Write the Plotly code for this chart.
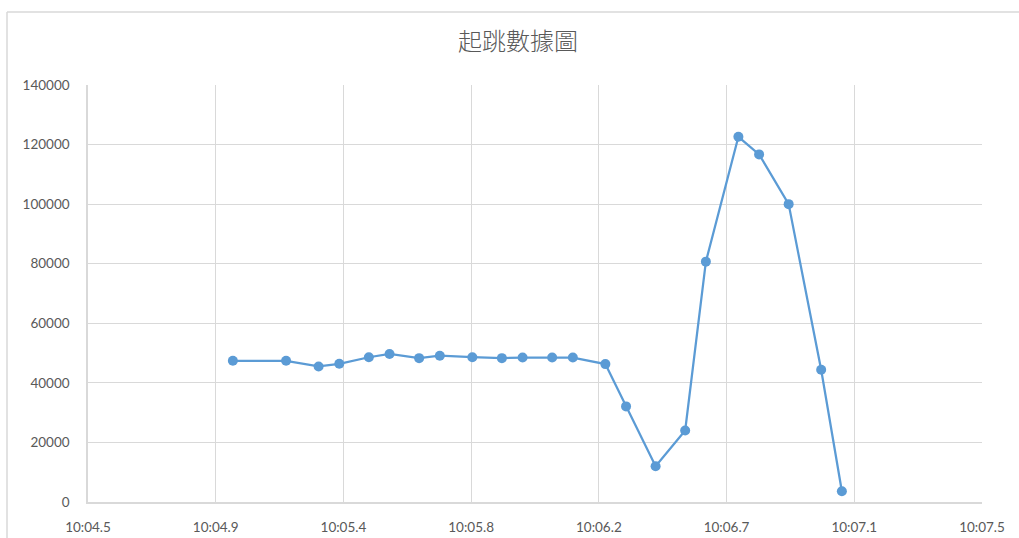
import plotly.graph_objects as go

# Jump force samples: seconds within minute 10, and force readings
seconds = [4.99, 5.17, 5.28, 5.35, 5.45, 5.52, 5.62, 5.69, 5.80, 5.90, 5.97, 6.07,
           6.14, 6.25, 6.32, 6.42, 6.52, 6.59, 6.70, 6.77, 6.87, 6.98, 7.05]
force = [47400, 47400, 45500, 46400, 48600, 49700, 48300, 49100, 48600, 48300, 48500, 48500,
         48500, 46300, 32100, 12000, 24000, 80700, 122600, 116700, 100000, 44400, 3600]

tick_seconds = [4.500, 4.932, 5.364, 5.796, 6.228, 6.660, 7.092, 7.524]
tick_labels = ["10:04.5", "10:04.9", "10:05.4", "10:05.8", "10:06.2", "10:06.7", "10:07.1", "10:07.5"]
y_ticks = [0, 20000, 40000, 60000, 80000, 100000, 120000, 140000]


def stamp(s):
    return "2024-01-01 00:10:%06.3f" % s


W, H = 1019, 538
ML, MR, MT, MB = 88, 37, 85, 36
PW, PH = W - ML - MR, H - MT - MB

fig = go.Figure(go.Scatter(
    x=[stamp(s) for s in seconds], y=force,
    mode="lines+markers",
    line=dict(color="#5B9BD5", width=2.25),
    marker=dict(color="#5B9BD5", size=10),
    hoverinfo="x+y",
))

grid = "#D9D9D9"
tick_font = dict(family="Lato, 'Liberation Sans', sans-serif", size=13.5, color="#595959")

fig.update_xaxes(
    type="date",
    range=[stamp(tick_seconds[0]), stamp(tick_seconds[-1])],
    tickmode="array",
    tickvals=[stamp(s) for s in tick_seconds],
    ticktext=tick_labels,
    showgrid=True, gridcolor=grid, gridwidth=1,
    showline=True, linecolor=grid, linewidth=1.5,
    ticks="", tickfont=tick_font, ticklabelstandoff=12,
    zeroline=False, automargin=False,
)
fig.update_yaxes(
    range=[0, 140000],
    tickmode="array", tickvals=y_ticks,
    ticktext=[str(v) for v in y_ticks],
    showgrid=True, gridcolor=grid, gridwidth=1,
    showline=True, linecolor=grid, linewidth=1.5,
    ticks="", tickfont=tick_font, ticklabelstandoff=14,
    zeroline=False, automargin=False,
)


def px_x(p):
    return (p - ML) / PW


def px_y(p):
    return (H - MB - p) / PH


# Outer chart frame (top and left edges)
frame = dict(type="line", xref="paper", yref="paper", line=dict(color="#D9D9D9", width=1.5))
fig.add_shape(**frame, x0=px_x(7), x1=px_x(W + 5), y0=px_y(12), y1=px_y(12))
fig.add_shape(**frame, x0=px_x(7), x1=px_x(7), y0=px_y(12), y1=px_y(H + 5))

fig.update_layout(
    width=W, height=H,
    margin=dict(l=ML, r=MR, t=MT, b=MB),
    paper_bgcolor="white", plot_bgcolor="white",
    showlegend=False,
    title=dict(
        text="起跳數據圖",
        x=518 / W, xanchor="center", xref="container",
        y=1 - 42 / H, yanchor="middle", yref="container",
        font=dict(family="'Noto Sans CJK TC', sans-serif", size=24, color="#595959", weight=300),
    ),
)

fig.write_html("out.html")
